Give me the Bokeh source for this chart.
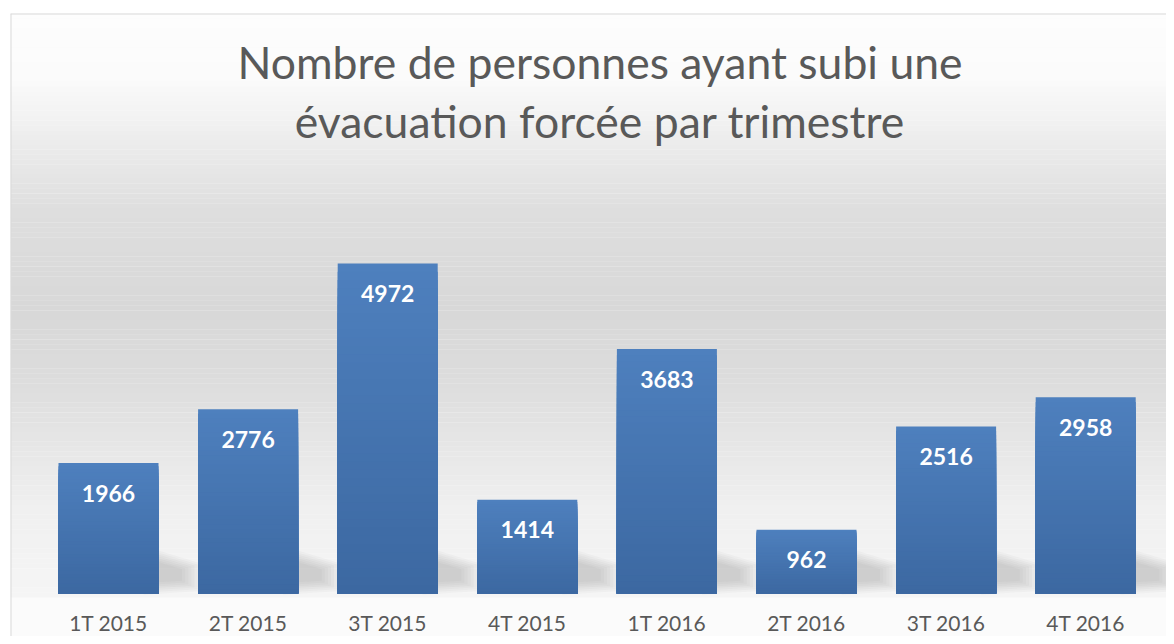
import numpy as np
from bokeh.plotting import figure
from bokeh.models import Range1d, BoxAnnotation, Span, Label, ColumnDataSource
from bokeh.core.properties import value
from bokeh.embed import file_html
from bokeh.resources import INLINE

# ---------------- data ----------------
categories = ["1T 2015", "2T 2015", "3T 2015", "4T 2015",
              "1T 2016", "2T 2016", "3T 2016", "4T 2016"]
values = [1966, 2776, 4972, 1414, 3683, 962, 2516, 2958]
title_lines = ["Nombre de personnes ayant subi une",
               "évacuation forcée par trimestre"]

# ---------------- layout (figure pixels) ----------------
W, H = 1166, 636
frame_left, frame_right = 10, 1166
frame_top, frame_bottom = 13, 636
plot_area_bottom = 597
first_center = 108.0
cat_px = 139.6
zero_y = 593.0
ppu = 330.0 / 4972.0          # pixels per unit
bar_px = 100.0

x_start = (frame_left - first_center) / cat_px
x_end = (frame_right - first_center) / cat_px
y_start = -(frame_bottom - zero_y) / ppu
y_end = (zero_y - frame_top) / ppu

def ydata(fig_y):
    return (zero_y - fig_y) / ppu

p = figure(width=W, height=H, x_range=Range1d(x_start, x_end),
           y_range=Range1d(y_start, y_end), output_backend="svg",
           toolbar_location=None, y_axis_location=None, x_axis_location=None,
           min_border_left=frame_left, min_border_right=W - frame_right,
           min_border_top=frame_top, min_border_bottom=H - frame_bottom)
p.background_fill_color = "#fbfbfb"
p.border_fill_color = "#ffffff"
p.outline_line_color = None
p.grid.visible = False

# ---------------- background gradient (plot area) ----------------
stops_y = [13, 77, 143, 210, 310, 377, 443, 510, 577, 597]
stops_g = [253, 251, 236, 222, 216, 220, 230, 240, 244, 245]
n_bands = 120
edges = np.linspace(frame_top, plot_area_bottom, n_bands + 1)
for i in range(n_bands):
    mid = 0.5 * (edges[i] + edges[i + 1])
    g = int(round(np.interp(mid, stops_y, stops_g)))
    col = "#%02x%02x%02x" % (g, g, g)
    p.add_layout(BoxAnnotation(top=ydata(edges[i]) + 2, bottom=ydata(edges[i + 1]),
                               fill_color=col, fill_alpha=1.0, line_color=None,
                               level="image"))

# ---------------- shadows ----------------
xs_c = np.arange(len(values), dtype=float)
bw = bar_px / cat_px
shape = [(-10, 3), (-10, 42), (36, 28), (36, 6)]
sh_xs, sh_ys = [], []
for c in xs_c:
    r = c + bw / 2
    for s in [1.25, 1.12, 1.0, 0.88, 0.76, 0.64, 0.52]:
        cx, cy = 10, 20
        sh_xs.append([r + (cx + (dx - cx) * s) / cat_px for dx, dy in shape])
        sh_ys.append([(cy + (dy - cy) * s) / ppu for dx, dy in shape])
p.patches(sh_xs, sh_ys, fill_color="#505050", fill_alpha=0.035, line_color=None)

# ---------------- bars with vertical gradient (nested, light top) ----------------
top_rgb = np.array([78, 128, 190])
bot_rgb = np.array([60, 104, 161])
n_sl = 40
bx, bt, bc = [], [], []
for i in range(n_sl):
    f = (n_sl - i - 0.5) / n_sl
    rgb = bot_rgb + (top_rgb - bot_rgb) * f
    col = "#%02x%02x%02x" % tuple(int(round(t)) for t in rgb)
    for c, v in zip(xs_c, values):
        bx.append(c)
        bt.append(v * (n_sl - i) / n_sl)
        bc.append(col)
p.vbar(x=bx, bottom=0, top=bt, width=bw, fill_color=bc, line_color=None)

# ---------------- data labels ----------------
lab_src = ColumnDataSource(dict(x=list(xs_c), y=values, t=[str(v) for v in values]))
p.text(x="x", y="y", text="t", source=lab_src, y_offset=30,
       text_align="center", text_baseline="middle", text_color="white",
       text_font=value("Lato"), text_font_style="bold", text_font_size="23px")

# ---------------- category labels (x axis) ----------------
cat_src = ColumnDataSource(dict(x=list(xs_c), y=[0] * len(categories), t=categories))
p.text(x="x", y="y", text="t", source=cat_src, y_offset=29,
       text_align="center", text_baseline="middle", text_color="#595959",
       text_font=value("Lato"), text_font_size="21px")

# ---------------- title ----------------
title_x = (599.5 - first_center) / cat_px
for line, base in zip(title_lines, [61, 119.5]):
    p.add_layout(Label(x=title_x, y=ydata(base), text=line, text_align="center",
                       text_baseline="alphabetic", text_color="#595959",
                       text_font="Lato", text_font_size="44.5px"))

# ---------------- borders ----------------
p.add_layout(Span(location=x_start, dimension="height", line_color="#d9d9d9", line_width=2))
p.add_layout(Span(location=y_end, dimension="width", line_color="#d9d9d9", line_width=2))

open("out.html", "w").write(file_html(p, INLINE))
